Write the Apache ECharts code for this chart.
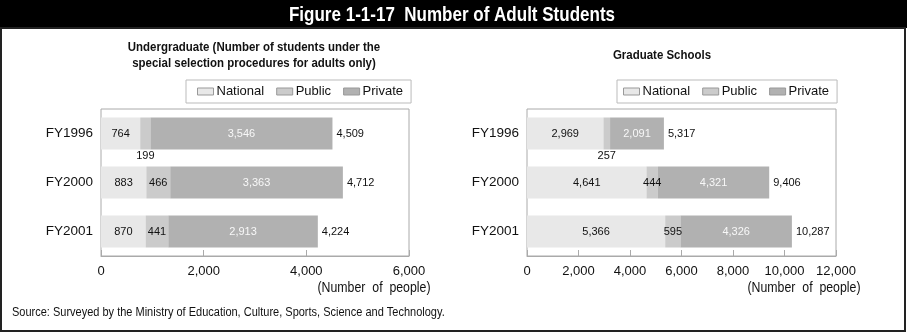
<!DOCTYPE html>
<html><head><meta charset="utf-8">
<script src="https://cdn.jsdelivr.net/npm/echarts@6/dist/echarts.min.js"></script>
<style>html,body{margin:0;padding:0;background:#fff}#c{width:907px;height:333px}</style>
</head><body><div id="c"></div>
<script>
const categories = ['FY1996', 'FY2000', 'FY2001'];
const seriesNames = ['National', 'Public', 'Private'];
const ugNational = [764, 883, 870];
const ugPublic = [199, 466, 441];
const ugPrivate = [3546, 3363, 2913];
const ugTotal = [4509, 4712, 4224];
const gsNational = [2969, 4641, 5366];
const gsPublic = [257, 444, 595];
const gsPrivate = [2091, 4321, 4326];
const gsTotal = [5317, 9406, 10287];
const ugAxis = { min: 0, max: 6000, interval: 2000 };
const gsAxis = { min: 0, max: 12000, interval: 2000 };
const belowLabelUg = [0]; // indices of Public values labelled under the bar
const belowLabelGs = [0];

const FONT = '"Liberation Sans", Arial, sans-serif';
const colors = ['#e8e8e8', '#cbcbcb', '#b1b1b1'];
const fmt = v => Number(v).toLocaleString('en-US');

function publicData(arr, below) {
  return arr.map((v, i) => below.includes(i)
    ? { value: v, label: { position: 'bottom', distance: 1 } }
    : v);
}

function makeSeries(gridIdx, nat, pub, pri, tot, below) {
  const base = { type: 'bar', stack: 's' + gridIdx, xAxisIndex: gridIdx, yAxisIndex: gridIdx,
    barWidth: 32, barGap: '-100%' };
  const lbl = (c) => ({ show: true, position: 'inside', color: c, fontFamily: FONT, fontSize: 11,
    formatter: p => fmt(p.value) });
  return [
    Object.assign({}, base, { name: seriesNames[0], data: nat, itemStyle: { color: colors[0] }, label: lbl('#111'), z: 3 }),
    Object.assign({}, base, { name: seriesNames[1], data: publicData(pub, below), itemStyle: { color: colors[1] }, label: lbl('#111'), z: 3 }),
    Object.assign({}, base, { name: seriesNames[2], data: pri, itemStyle: { color: colors[2] }, label: lbl('#f8f8f8'), z: 3 }),
    { type: 'bar', name: 'Total', xAxisIndex: gridIdx, yAxisIndex: gridIdx, barWidth: 32, barGap: '-100%',
      data: tot, itemStyle: { color: 'rgba(0,0,0,0)' }, silent: true, z: 1,
      label: { show: true, position: 'right', distance: 4, color: '#111', fontFamily: FONT, fontSize: 11,
        formatter: p => fmt(p.value) } }
  ];
}

function xAx(gridIdx, ax) {
  return { type: 'value', gridIndex: gridIdx, min: ax.min, max: ax.max, interval: ax.interval,
    axisLine: { show: true, lineStyle: { color: '#aaa' } },
    axisTick: { show: true, inside: true, length: 6, lineStyle: { color: '#aaa' } },
    splitLine: { show: false },
    axisLabel: { margin: 9, color: '#111', fontFamily: FONT, fontSize: 13, formatter: v => fmt(v) } };
}
function yAx(gridIdx) {
  return { type: 'category', gridIndex: gridIdx, data: categories, inverse: true,
    axisLine: { show: false }, axisTick: { show: false },
    axisLabel: { margin: 8, color: '#111', fontFamily: FONT, fontSize: 13.5 } };
}
function legend(left, padLeft, padRight) {
  return { left: left, top: 80, orient: 'horizontal', data: seriesNames, icon: 'rect',
    backgroundColor: '#fff', borderColor: '#bbb', borderWidth: 1, padding: [5, padRight, 5, padLeft],
    itemWidth: 16, itemHeight: 7, itemGap: 12,
    itemStyle: { borderColor: '#999', borderWidth: 1 },
    textStyle: { fontFamily: FONT, fontSize: 13, color: '#111', padding: [0, 0, 0, -2] } };
}
function txt(x, y, text, font, sx, align, extra) {
  return { type: 'text', x: x, y: y, scaleX: sx,
    style: Object.assign({ x: 0, y: 0, text: text, fill: '#111', font: font, textAlign: align, textVerticalAlign: 'middle' }, extra || {}) };
}

const chart = echarts.init(document.getElementById('c'), null, { renderer: 'canvas' });
chart.setOption({
  animation: false,
  backgroundColor: '#fff',
  grid: [
    { left: 101, top: 109, width: 308, height: 147, show: true, borderColor: '#aaa', borderWidth: 1, backgroundColor: 'transparent' },
    { left: 527, top: 109, width: 309, height: 147, show: true, borderColor: '#aaa', borderWidth: 1, backgroundColor: 'transparent' }
  ],
  xAxis: [xAx(0, ugAxis), xAx(1, gsAxis)],
  yAxis: [yAx(0), yAx(1)],
  legend: [legend(186, 11, 8), legend(617, 6, 8)],
  series: [].concat(
    makeSeries(0, ugNational, ugPublic, ugPrivate, ugTotal, belowLabelUg),
    makeSeries(1, gsNational, gsPublic, gsPrivate, gsTotal, belowLabelGs)
  ),
  graphic: [
    { type: 'rect', shape: { x: 0, y: 0, width: 907, height: 28 }, style: { fill: '#000' }, z: -1 },
    { type: 'rect', shape: { x: 1, y: 28, width: 904, height: 303 }, style: { fill: 'none', stroke: '#222', lineWidth: 2 }, z: -1 },
    txt(452, 15, 'Figure 1-1-17  Number of Adult Students', 'bold 21px ' + FONT, 0.81, 'center', { fill: '#fff' }),
    txt(254, 55, 'Undergraduate (Number of students under the\nspecial selection procedures for adults only)', 'bold 13.5px ' + FONT, 0.85, 'center', { lineHeight: 16 }),
    txt(662, 55, 'Graduate Schools', 'bold 13.5px ' + FONT, 0.85, 'center'),
    txt(374, 288, '(Number  of  people)', '14px ' + FONT, 0.88, 'center'),
    txt(804, 288, '(Number  of  people)', '14px ' + FONT, 0.88, 'center'),
    txt(12, 313, 'Source: Surveyed by the Ministry of Education, Culture, Sports, Science and Technology.', '12.5px ' + FONT, 0.88, 'left')
  ]
});
</script>
</body></html>
